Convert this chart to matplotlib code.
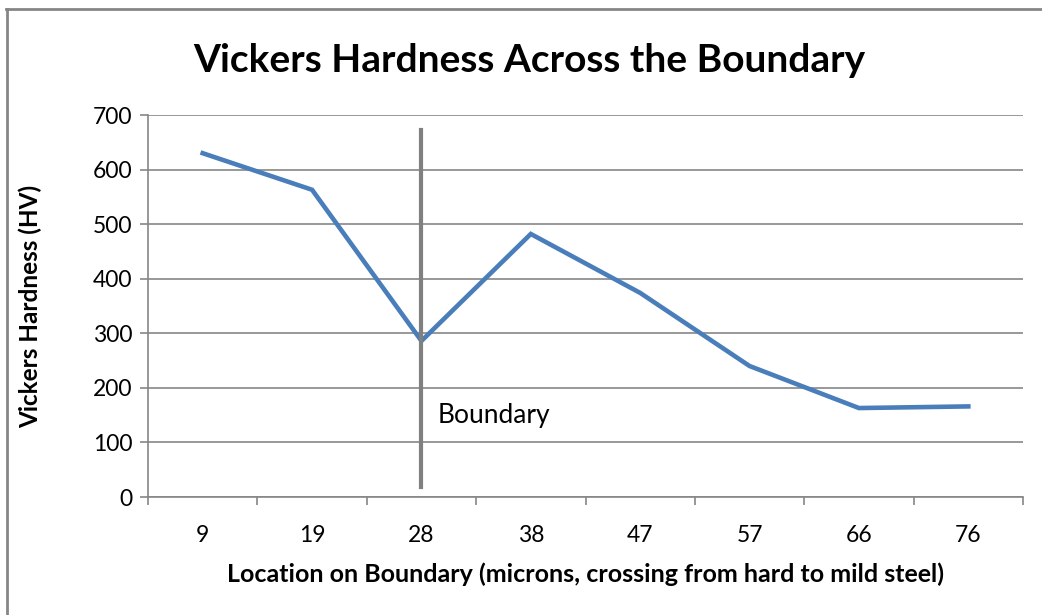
import matplotlib.pyplot as plt
from matplotlib.lines import Line2D

locations = ["9", "19", "28", "38", "47", "57", "66", "76"]
hardness = [630, 563, 286, 482, 374, 240, 163, 166]
boundary_location = "28"

plt.rcParams['font.family'] = ['Lato', 'DejaVu Sans']

fig = plt.figure(figsize=(10.42, 6.15), dpi=100)
ax = fig.add_axes([148 / 1042, 1 - 497 / 615, 875 / 1042, 382 / 615])

x = list(range(len(locations)))
ax.plot(x, hardness, color="#4A7EBB", linewidth=3.3, solid_joinstyle="miter", zorder=3)

bx = locations.index(boundary_location)
ax.plot([bx, bx], [18, 672], color="#808080", linewidth=3.0, zorder=4)
ax.text(bx + 0.15, 150, "Boundary", fontsize=19, va="center", ha="left")

ax.set_xlim(-0.5, len(locations) - 0.5)
ax.set_ylim(0, 700)
ax.set_yticks(range(0, 701, 100))
ax.set_xticks(x)
ax.set_xticklabels(locations)
ax.set_xticks([i - 0.5 for i in range(len(locations) + 1)], minor=True)
ax.tick_params(axis="x", which="major", length=0, pad=20, labelsize=16.5)
ax.tick_params(axis="x", which="minor", length=6, color="#868686", width=1.2)
ax.tick_params(axis="y", length=6, color="#868686", width=1.2, labelsize=16.5, pad=5)

ax.grid(axis="y", color="#868686", linewidth=1.2)
ax.set_axisbelow(True)
for s in ["top", "right"]:
    ax.spines[s].set_visible(False)
for s in ["left", "bottom"]:
    ax.spines[s].set_color("#868686")
    ax.spines[s].set_linewidth(1.2)

ax.set_xlabel("Location on Boundary (microns, crossing from hard to mild steel)",
              fontsize=18, fontweight="bold", labelpad=12)
ax.set_ylabel("Vickers Hardness (HV)", fontsize=17.5, fontweight="bold")
ax.yaxis.set_label_coords(-0.121, 0.5)
fig.text(529 / 1042, 1 - 60 / 615, "Vickers Hardness Across the Boundary",
         fontsize=28, fontweight="bold", ha="center", va="center")

# outer chart border
fig.add_artist(Line2D([6 / 1042, 1], [1 - 9 / 615, 1 - 9 / 615], color="#868686", linewidth=2))
fig.add_artist(Line2D([7 / 1042, 7 / 1042], [0, 1 - 9 / 615], color="#868686", linewidth=2))

fig.savefig("out.png", dpi=100)
